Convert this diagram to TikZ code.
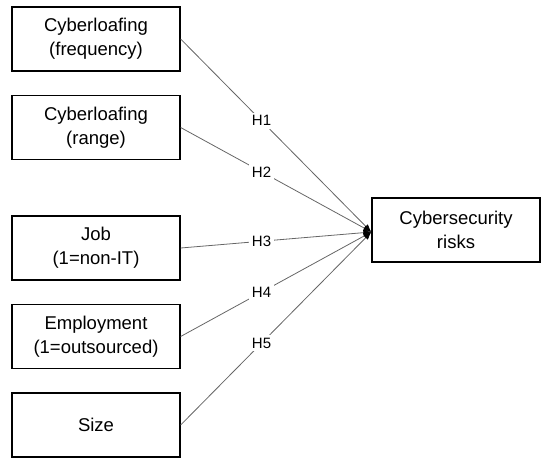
\documentclass[tikz,border=0pt]{standalone}
\usepackage{fontspec}
\setmainfont{Liberation Sans}
\usetikzlibrary{arrows.meta}
\begin{document}
\begin{tikzpicture}[x=1pt,y=-1pt,
 box/.style={draw=black,line width=1.3pt,minimum width=168pt,minimum height=64pt,align=center,font=\fontsize{18.5}{24}\selectfont,inner sep=0pt},
 link/.style={draw=black!60,line width=0.8pt,-{Latex[length=8pt,width=6pt,black]}},
 hlab/.style={fill=white,font=\fontsize{15}{17}\selectfont,inner sep=3pt,pos=0.424}]
\useasboundingbox (0,0) rectangle (541,458);
\node[box] (f) at (96,39) {Cyberloafing\\(frequency)};
\node[box] (r) at (96,127.5) {Cyberloafing\\(range)};
\node[box] (j) at (96,248) {Job\\(1=non-IT)};
\node[box] (e) at (96,336.5) {Employment\\(1=outsourced)};
\node[box] (s) at (96,425) {Size};
\node[box] (risk) at (456,230) {Cybersecurity\\risks};
\coordinate (tip) at ([yshift=-2pt]risk.west);
\draw[link] (f.east) -- node[hlab] {H1} (tip);
\draw[link] (r.east) -- node[hlab] {H2} (tip);
\draw[link] (j.east) -- node[hlab] {H3} (tip);
\draw[link] (e.east) -- node[hlab] {H4} (tip);
\draw[link] (s.east) -- node[hlab] {H5} (tip);
\end{tikzpicture}
\end{document}
